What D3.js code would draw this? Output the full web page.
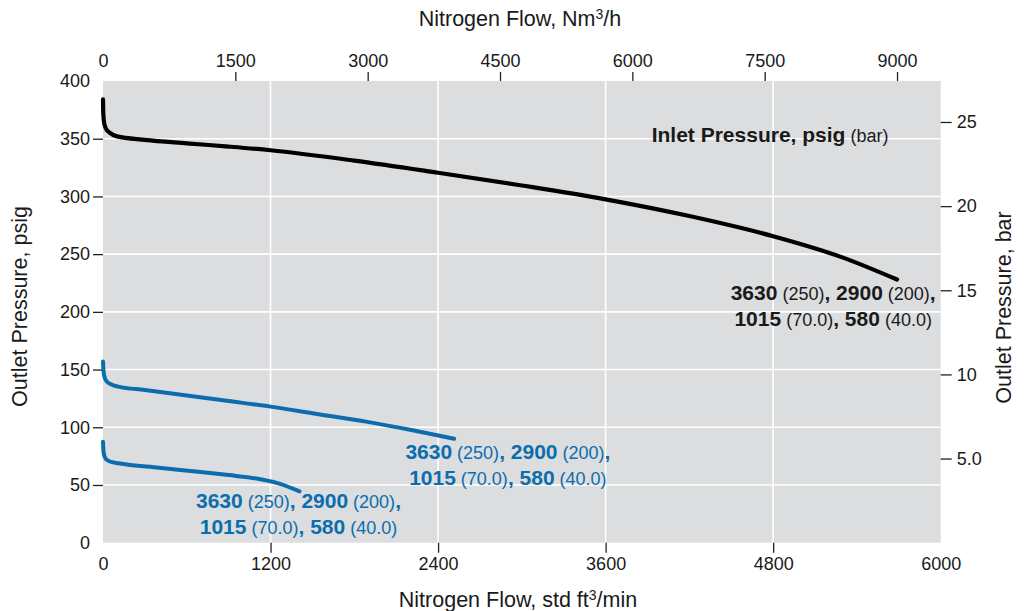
<!DOCTYPE html>
<html>
<head>
<meta charset="utf-8">
<script src="https://cdn.jsdelivr.net/npm/d3@7"></script>
<style>
  body { margin: 0; background: #fff; }
  text { font-family: "Liberation Sans", Arial, Helvetica, sans-serif; white-space: pre; }
</style>
</head>
<body>
<div id="viz"></div>
<script>
var width = 1024;
var height = 611;

// --- data ---
// std ft3/min vs outlet psig
var highFlow = [0, 2, 8, 20, 50, 100, 300, 600, 900, 1200, 1800, 2400, 3000, 3600, 4200, 4800, 5300, 5687];
var highPsig = [384, 372, 364, 359, 355, 352, 349, 346, 343.2, 340, 331, 320.5, 309.5, 297.5, 283, 265.5, 247, 228];

var midFlow = [0, 3, 10, 25, 60, 110, 300, 600, 900, 1200, 1500, 1884, 2200, 2515];
var midPsig = [157, 150, 144, 140, 137, 135.2, 132.3, 127.5, 122.7, 117.9, 112.2, 104.9, 97.8, 90];

var lowFlow = [0, 3, 10, 25, 60, 110, 400, 700, 900, 1100, 1250, 1408];
var lowPsig = [87.5, 80, 75, 72, 70, 68.8, 64.9, 61.2, 58.6, 55.6, 51.6, 44.5];

// inlet pressure labels, psig and (bar)
var inletPsig = ['3630', '2900', '1015', '580'];
var inletBar = ['250', '200', '70.0', '40.0'];

// tick values
var scfmTicks = [0, 1200, 2400, 3600, 4800, 6000];
var nm3Ticks = [0, 1500, 3000, 4500, 6000, 7500, 9000];
var psigTicks = [0, 50, 100, 150, 200, 250, 300, 350, 400];
var barTicks = [5, 10, 15, 20, 25];

var nm3PerScfm = 1.5825;
var psiPerBar = 14.58;

var margin = { left: 103, top: 81, right: 83.3, bottom: 68.3 };
var plotW = width - margin.left - margin.right;
var plotH = height - margin.top - margin.bottom;

var x = d3.scaleLinear().domain([0, 6000]).range([0, plotW]);
var xTop = d3.scaleLinear().domain([0, 6000 * nm3PerScfm]).range([0, plotW]);
var y = d3.scaleLinear().domain([0, 400]).range([plotH, 0]);
var yRight = d3.scaleLinear().domain([0, 400 / psiPerBar]).range([plotH, 0]);

var ink = '#1a1a1a';
var blue = '#0b6dae';
var plain = d3.format('d');

var svg = d3.select('#viz').append('svg')
  .attr('width', width)
  .attr('height', height);

var g = svg.append('g')
  .attr('transform', 'translate(' + margin.left + ',' + margin.top + ')');

g.append('rect')
  .attr('width', plotW)
  .attr('height', plotH)
  .style('fill', '#dcdddf');

// grid
g.selectAll('.vgrid')
  .data(scfmTicks.slice(1, -1)).enter()
  .append('line')
  .attr('x1', function (d) { return x(d); })
  .attr('x2', function (d) { return x(d); })
  .attr('y1', 0)
  .attr('y2', plotH)
  .style('stroke', '#fff')
  .style('stroke-width', 1.6);

g.selectAll('.hgrid')
  .data(psigTicks.slice(1, -1)).enter()
  .append('line')
  .attr('x1', 0)
  .attr('x2', plotW)
  .attr('y1', function (d) { return y(d); })
  .attr('y2', function (d) { return y(d); })
  .style('stroke', '#fff')
  .style('stroke-width', 1.6);

// axes
function styleAxis(sel, hideEnds) {
  sel.select('.domain').remove();
  sel.selectAll('line').style('stroke', '#222').style('stroke-width', 1.3);
  sel.selectAll('text').style('font-size', '18px').style('fill', ink);
  if (hideEnds) {
    sel.selectAll('.tick line').filter(function (d) {
      return hideEnds.indexOf(d) >= 0;
    }).remove();
  }
}

g.append('g')
  .attr('transform', 'translate(0,' + plotH + ')')
  .call(d3.axisBottom(x).tickValues(scfmTicks).tickFormat(plain).tickSize(10).tickPadding(4.5))
  .call(styleAxis, [0, 6000]);

g.append('g')
  .call(d3.axisTop(xTop).tickValues(nm3Ticks).tickFormat(plain).tickSize(9).tickPadding(5))
  .call(styleAxis, [0]);

g.append('g')
  .call(d3.axisLeft(y).tickValues(psigTicks).tickFormat(plain).tickSize(10).tickPadding(3))
  .call(styleAxis, [0, 400]);

g.append('g')
  .attr('transform', 'translate(' + plotW + ',0)')
  .call(d3.axisRight(yRight).tickValues(barTicks).tickSize(11).tickPadding(5)
    .tickFormat(function (d) { return d === 5 ? '5.0' : d; }))
  .call(styleAxis);

// curves
var line = d3.line()
  .x(function (d) { return x(d[0]); })
  .y(function (d) { return y(d[1]); })
  .curve(d3.curveMonotoneX);

var curves = [
  { flow: highFlow, psig: highPsig, color: '#000', w: 4.2 },
  { flow: midFlow, psig: midPsig, color: blue, w: 4 },
  { flow: lowFlow, psig: lowPsig, color: blue, w: 4 }
];

g.selectAll('.curve')
  .data(curves).enter()
  .append('path')
  .attr('d', function (c) { return line(d3.zip(c.flow, c.psig)); })
  .style('fill', 'none')
  .style('stroke', function (c) { return c.color; })
  .style('stroke-width', function (c) { return c.w; })
  .style('stroke-linecap', 'round');

// inlet pressure labels
function inletLabel(cx, cy, color) {
  var t = g.append('text')
    .attr('text-anchor', 'middle')
    .style('fill', color);
  [[0, 1], [2, 3]].forEach(function (pair, row) {
    pair.forEach(function (i, k) {
      var big = t.append('tspan')
        .style('font-size', '21px')
        .style('font-weight', 'bold')
        .text(inletPsig[i]);
      if (k === 0) big.attr('x', cx).attr('y', cy + row * 26);
      t.append('tspan')
        .style('font-size', '18px')
        .text(' (' + inletBar[i] + ')');
      var tail = k === 0 ? ', ' : (row === 0 ? ',' : '');
      if (tail) {
        t.append('tspan')
          .style('font-size', '21px')
          .style('font-weight', 'bold')
          .text(tail);
      }
    });
  });
}

inletLabel(x(5230), y(210), ink);
inletLabel(x(2900), y(72.3), blue);
inletLabel(x(1400), y(29.8), blue);

var legend = g.append('text')
  .attr('x', x(3930))
  .attr('y', y(347.4))
  .style('fill', ink);
legend.append('tspan')
  .style('font-size', '21px')
  .style('font-weight', 'bold')
  .text('Inlet Pressure, psig');
legend.append('tspan')
  .style('font-size', '18px')
  .text(' (bar)');

// axis titles
function supTitle(sel, before, after) {
  sel.append('tspan').text(before);
  sel.append('tspan')
    .attr('dy', -7)
    .style('font-size', '14px')
    .text('3');
  sel.append('tspan')
    .attr('dy', 7)
    .text(after);
}

svg.append('text')
  .attr('x', 520)
  .attr('y', 26)
  .attr('text-anchor', 'middle')
  .style('font-size', '21.5px')
  .style('fill', ink)
  .call(supTitle, 'Nitrogen Flow, Nm', '/h');

svg.append('text')
  .attr('x', 518)
  .attr('y', 607)
  .attr('text-anchor', 'middle')
  .style('font-size', '21.5px')
  .style('fill', ink)
  .call(supTitle, 'Nitrogen Flow, std ft', '/min');

svg.append('text')
  .attr('transform', 'translate(27,306.5) rotate(-90)')
  .attr('text-anchor', 'middle')
  .style('font-size', '21.5px')
  .style('fill', ink)
  .text('Outlet Pressure, psig');

svg.append('text')
  .attr('transform', 'translate(1011,307.5) rotate(-90)')
  .attr('text-anchor', 'middle')
  .style('font-size', '21.5px')
  .style('fill', ink)
  .text('Outlet Pressure, bar');
</script>
</body>
</html>
